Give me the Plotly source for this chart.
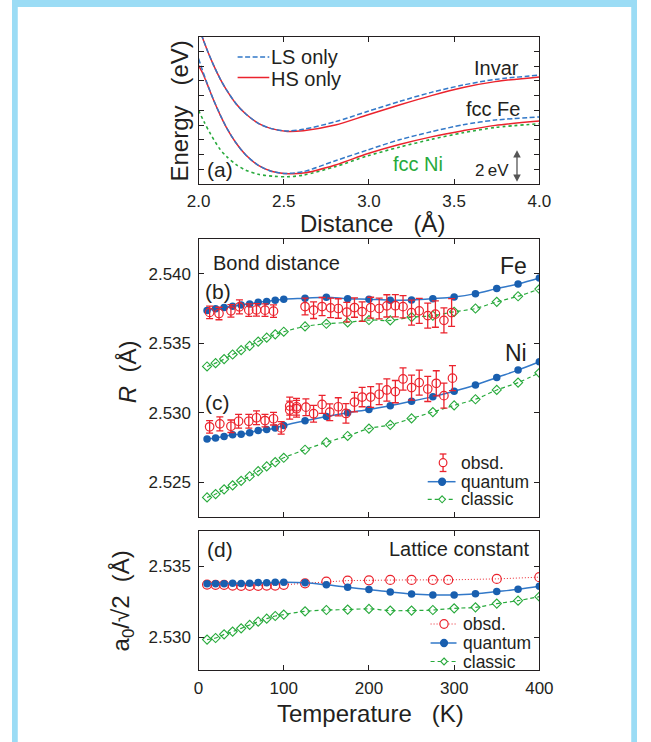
import plotly.graph_objects as go

# ---------------- panel (a): interatomic potential curves ----------------
dist_invar = [2.000, 2.032, 2.051, 2.088, 2.126, 2.163, 2.220, 2.276, 2.351, 2.427, 2.521, 2.615, 2.803, 2.990,
              3.178, 3.366, 3.553, 3.741, 4.000]
invar_ls = [10.65, 9.66, 9.08, 8.07, 7.16, 6.41, 5.45, 4.77, 4.12, 3.76, 3.60, 3.71, 4.23, 4.92, 5.60, 6.22, 6.72,
            7.10, 7.39]
invar_hs = [10.65, 9.66, 9.08, 8.07, 7.16, 6.41, 5.45, 4.77, 4.12, 3.76, 3.57, 3.62, 4.00, 4.68, 5.36, 6.00, 6.55,
            6.95, 7.27]

dist_fe = [2.000, 2.023, 2.051, 2.088, 2.126, 2.163, 2.220, 2.276, 2.351, 2.427, 2.500, 2.615, 2.803, 2.990,
           3.178, 3.366, 3.553, 3.741, 4.000]
fe_ls = [8.52, 7.72, 6.81, 5.71, 4.72, 3.86, 2.79, 1.99, 1.27, 0.87, 0.72, 0.84, 1.58, 2.30, 3.00, 3.55, 4.02,
         4.34, 4.55]
fe_hs = [8.05, 7.55, 6.78, 5.70, 4.71, 3.85, 2.78, 1.98, 1.26, 0.86, 0.72, 0.74, 1.29, 2.05, 2.68, 3.20, 3.62,
         3.98, 4.27]

dist_ni = [2.000, 2.032, 2.070, 2.126, 2.163, 2.220, 2.276, 2.351, 2.445, 2.521, 2.615, 2.803, 2.990, 3.178,
           3.366, 3.553, 3.741, 4.000]
ni_e = [5.00, 4.23, 3.40, 2.36, 1.88, 1.32, 0.94, 0.66, 0.52, 0.49, 0.60, 1.18, 1.90, 2.50, 3.03, 3.48, 3.84, 4.09]

# ---------------- panels (b)-(d): temperature dependence ----------------
temp_calc = [10, 20, 30, 40, 50, 60, 70, 80, 90, 100, 125, 150, 175, 200, 225, 250, 275, 300, 325, 350, 375, 400]

fe_quantum = [2.53736, 2.53748, 2.53757, 2.53767, 2.53776, 2.53783, 2.53795, 2.53800, 2.53810, 2.53817, 2.53824,
              2.53831, 2.53821, 2.53817, 2.53810, 2.53812, 2.53821, 2.53833, 2.53857, 2.53893, 2.53926, 2.53969]
fe_classic = [2.53333, 2.53357, 2.53386, 2.53419, 2.53450, 2.53481, 2.53512, 2.53540, 2.53564, 2.53583, 2.53621,
              2.53640, 2.53650, 2.53667, 2.53664, 2.53688, 2.53698, 2.53726, 2.53750, 2.53798, 2.53838, 2.53890]
ni_quantum = [2.52812, 2.52819, 2.52829, 2.52841, 2.52845, 2.52857, 2.52872, 2.52879, 2.52891, 2.52908, 2.52942,
              2.52973, 2.53000, 2.53024, 2.53051, 2.53082, 2.53116, 2.53155, 2.53200, 2.53254, 2.53307, 2.53367]
ni_classic = [2.52391, 2.52415, 2.52449, 2.52478, 2.52510, 2.52543, 2.52580, 2.52614, 2.52645, 2.52676, 2.52734,
              2.52787, 2.52833, 2.52886, 2.52913, 2.52959, 2.53005, 2.53053, 2.53097, 2.53164, 2.53217, 2.53287]

fe_obs_t = [13, 24, 38, 48, 59, 68, 78, 88, 125, 135, 145, 155, 164, 174, 183, 192, 202, 212, 221, 231, 240,
            250, 259, 269, 278, 288, 297]
fe_obs_r = [2.53722, 2.53714, 2.53733, 2.53762, 2.53738, 2.53740, 2.53738, 2.53731, 2.53764, 2.53738, 2.53764,
            2.53755, 2.53750, 2.53724, 2.53757, 2.53728, 2.53756, 2.53750, 2.53769, 2.53770, 2.53763, 2.53720,
            2.53733, 2.53699, 2.53710, 2.53665, 2.53721]
fe_obs_err = [0.00045, 0.00045, 0.00045, 0.0005, 0.00045, 0.00045, 0.00045, 0.00045, 0.0006, 0.0006, 0.00065,
              0.0007, 0.0007, 0.0007, 0.0007, 0.0007, 0.00075, 0.00075, 0.0008, 0.0008, 0.0008, 0.0009, 0.0009,
              0.0009, 0.00095, 0.0009, 0.001]

ni_obs_t = [13, 25, 38, 47, 59, 68, 78, 88, 97, 107, 107, 115, 115, 126, 135, 145, 154, 164, 173, 183, 192, 202,
            212, 221, 231, 240, 250, 259, 269, 279, 288, 298]
ni_obs_r = [2.52899, 2.52920, 2.52903, 2.52939, 2.52939, 2.52964, 2.52944, 2.52957, 2.52891, 2.53048, 2.53019,
            2.53043, 2.53029, 2.53040, 2.52993, 2.53060, 2.53004, 2.53043, 2.52995, 2.53077, 2.53113, 2.53113,
            2.53133, 2.53164, 2.53152, 2.53243, 2.53181, 2.53217, 2.53171, 2.53212, 2.53123, 2.53249]
ni_obs_err = [0.00045, 0.0005, 0.00045, 0.0005, 0.0005, 0.0005, 0.00045, 0.00045, 0.00045, 0.00065, 0.00065,
              0.0006, 0.0006, 0.0006, 0.0006, 0.00065, 0.0006, 0.00065, 0.0007, 0.0007, 0.0007, 0.00075, 0.00075,
              0.0008, 0.0008, 0.0008, 0.0009, 0.0009, 0.0009, 0.0009, 0.0009, 0.0009]

lat_quantum = [2.53376, 2.53376, 2.53376, 2.53380, 2.53378, 2.53380, 2.53385, 2.53383, 2.53387, 2.53387, 2.53383,
               2.53369, 2.53352, 2.53336, 2.53319, 2.53305, 2.53298, 2.53298, 2.53307, 2.53322, 2.53338, 2.53359]
lat_classic = [2.52984, 2.52995, 2.53021, 2.53040, 2.53063, 2.53087, 2.53110, 2.53131, 2.53150, 2.53160, 2.53183,
               2.53192, 2.53195, 2.53200, 2.53188, 2.53188, 2.53192, 2.53204, 2.53211, 2.53237, 2.53258, 2.53286]
lat_obs_t = [10, 20, 30, 40, 50, 60, 70, 80, 90, 100, 125, 150, 175, 200, 225, 250, 275, 293, 350, 400]
lat_obs = [2.53371, 2.53369, 2.53369, 2.53364, 2.53362, 2.53362, 2.53362, 2.53364, 2.53364, 2.53369, 2.53380,
           2.53392, 2.53399, 2.53401, 2.53404, 2.53404, 2.53404, 2.53404, 2.53411, 2.53423]

# ---------------- styling ----------------
W, H = 651, 742
FONT = "Liberation Sans, Arial, Helvetica, sans-serif"
INK = "#231F20"
RED = "rgb(235,35,45)"
BLUE_M = "rgb(25,95,175)"
BLUE_L = "rgb(50,120,200)"
GREEN = "rgb(40,170,60)"
BG_BLUE = "rgb(155,220,245)"
ARROW = "#555555"


def fx(x):
    return x / W


def fy(y):
    return 1 - y / H


fig = go.Figure()

# panel (a)
fig.add_trace(go.Scatter(x=dist_ni, y=ni_e, mode="lines",
                         line=dict(color=GREEN, width=1.6, dash="dot", shape="spline", smoothing=0.8),
                         xaxis="x", yaxis="y", showlegend=False))
for d, e in ((dist_invar, invar_hs), (dist_fe, fe_hs)):
    fig.add_trace(go.Scatter(x=d, y=e, mode="lines", line=dict(color=RED, width=1.5, shape="spline", smoothing=0.8),
                             xaxis="x", yaxis="y", showlegend=False))
for d, e in ((dist_invar, invar_ls), (dist_fe, fe_ls)):
    fig.add_trace(go.Scatter(x=d, y=e, mode="lines",
                             line=dict(color=BLUE_L, width=1.5, dash="5px,2.5px", shape="spline", smoothing=0.8),
                             xaxis="x", yaxis="y", showlegend=False))

# panels (b) and (c)
for cl, qu, ot, orr, oe in ((fe_classic, fe_quantum, fe_obs_t, fe_obs_r, fe_obs_err),
                             (ni_classic, ni_quantum, ni_obs_t, ni_obs_r, ni_obs_err)):
    fig.add_trace(go.Scatter(x=temp_calc, y=cl, mode="lines+markers", xaxis="x2", yaxis="y2", showlegend=False,
                             line=dict(color=GREEN, width=1.2, dash="4px,3px", shape="spline"),
                             marker=dict(symbol="diamond-open", size=7, color=GREEN, line=dict(width=1.1, color=GREEN))))
    fig.add_trace(go.Scatter(x=temp_calc, y=qu, mode="lines+markers", xaxis="x2", yaxis="y2", showlegend=False,
                             line=dict(color=BLUE_L, width=1.5, shape="spline"),
                             marker=dict(symbol="circle", size=7.5, color=BLUE_M)))
    fig.add_trace(go.Scatter(x=ot, y=orr, mode="markers", xaxis="x2", yaxis="y2", showlegend=False,
                             error_y=dict(type="data", array=oe, color=RED, thickness=1.3, width=3.5),
                             marker=dict(symbol="circle-open", size=8.5, color=RED, line=dict(width=1.2, color=RED))))

# panel (d)
fig.add_trace(go.Scatter(x=temp_calc, y=lat_classic, mode="lines+markers", xaxis="x3", yaxis="y3", showlegend=False,
                         line=dict(color=GREEN, width=1.2, dash="4px,3px", shape="spline"),
                         marker=dict(symbol="diamond-open", size=7, color=GREEN, line=dict(width=1.1, color=GREEN))))
fig.add_trace(go.Scatter(x=lat_obs_t, y=lat_obs, mode="lines+markers", xaxis="x3", yaxis="y3", showlegend=False,
                         line=dict(color=RED, width=1.0, dash="1px,2px"),
                         marker=dict(symbol="circle-open", size=9, color=RED, line=dict(width=1.2, color=RED))))
fig.add_trace(go.Scatter(x=temp_calc, y=lat_quantum, mode="lines+markers", xaxis="x3", yaxis="y3", showlegend=False,
                         line=dict(color=BLUE_L, width=1.5, shape="spline"),
                         marker=dict(symbol="circle", size=7.5, color=BLUE_M)))

axis_common = dict(showline=True, linecolor=INK, linewidth=1.2, mirror="ticks", ticks="inside", ticklen=5,
                   tickcolor=INK, tickwidth=1.1, showgrid=False, zeroline=False,
                   tickfont=dict(family=FONT, size=17, color=INK))

xdom = [fx(194.3), fx(549.3)]
fig.update_layout(
    width=W, height=H, margin=dict(l=0, r=0, t=0, b=0),
    paper_bgcolor="white", plot_bgcolor="white",
    font=dict(family=FONT, color=INK),
    xaxis=dict(axis_common, domain=xdom, anchor="y", range=[2.0, 4.0],
               tickvals=[2.0, 2.5, 3.0, 3.5, 4.0], tickformat=".1f", ticklabelstandoff=1),
    yaxis=dict(axis_common, domain=[fy(184), fy(36.7)], anchor="x", range=[0, 10], dtick=1,
               showticklabels=False),
    xaxis2=dict(axis_common, domain=xdom, anchor="y2", range=[0, 400], tickvals=[0, 100, 200, 300, 400],
                showticklabels=False),
    yaxis2=dict(axis_common, domain=[fy(517), fy(239)], anchor="x2", range=[2.5225, 2.5425],
                tickvals=[2.525, 2.530, 2.535, 2.540], tickformat=".3f", ticklabelstandoff=3),
    xaxis3=dict(axis_common, domain=xdom, anchor="y3", range=[0, 400], tickvals=[0, 100, 200, 300, 400],
                ticklabelstandoff=2),
    yaxis3=dict(axis_common, domain=[fy(670), fy(530.7)], anchor="x3", range=[2.5277, 2.5375],
                tickvals=[2.530, 2.535], tickformat=".3f", ticklabelstandoff=3),
)

annotations = []


def label(text, x, y, size, xanchor="center", color=INK, angle=0):
    annotations.append(dict(text=text, x=fx(x), y=fy(y), xref="paper", yref="paper", showarrow=False,
                            xanchor=xanchor, yanchor="middle", textangle=angle, borderpad=0,
                            font=dict(family=FONT, size=size, color=color)))


# axis titles
label("Energy&nbsp;&nbsp;&nbsp;(eV)", 174, 111.5, 24, angle=-90)
label("Distance&nbsp;&nbsp;&nbsp;(Å)", 375, 223, 24)
label("<i>R</i>&nbsp;&nbsp;(Å)", 120, 372, 24, angle=-90)
label("a<sub>0</sub>/√2&nbsp;&nbsp;(Å)", 115, 601, 24, angle=-90)
label("Temperature&nbsp;&nbsp;&nbsp;(K)", 373, 713, 24)

# panel labels and notes
label("(a)", 202, 169.5, 21, xanchor="left")
label("Invar", 529, 67.5, 20, xanchor="right")
label("fcc Fe", 530, 108.5, 20, xanchor="right")
label("fcc Ni", 396, 163.5, 20, xanchor="left", color=GREEN)
label("2\u2009eV", 519, 170, 17, xanchor="right")
label("LS only", 269, 57.5, 20, xanchor="left")
label("HS only", 269, 79.5, 20, xanchor="left")

label("Bond distance", 208, 263, 20, xanchor="left")
label("(b)", 200, 291, 21, xanchor="left")
label("Fe", 537, 266.5, 23, xanchor="right")
label("Ni", 537, 353, 23, xanchor="right")
label("(c)", 200, 402, 21, xanchor="left")

label("(d)", 202, 549, 21, xanchor="left")
label("Lattice constant", 541, 549, 20, xanchor="right")

for txt, yy in (("obsd.", 462.7), ("quantum", 481.7), ("classic", 499.3)):
    label(txt, 467, yy, 17.5, xanchor="left")
for txt, yy in (("obsd.", 624), ("quantum", 643), ("classic", 661.5)):
    label(txt, 469, yy, 17.5, xanchor="left")

fig.update_layout(annotations=annotations)

shapes = []
# page frame strips
shapes.append(dict(type="rect", xref="paper", yref="paper", x0=0, x1=fx(6), y0=0, y1=1,
                   fillcolor=BG_BLUE, line=dict(width=0), layer="below"))
shapes.append(dict(type="rect", xref="paper", yref="paper", x0=fx(645), x1=1, y0=0, y1=1,
                   fillcolor=BG_BLUE, line=dict(width=0), layer="below"))
shapes.append(dict(type="rect", xref="paper", yref="paper", x0=0, x1=1, y0=fy(7), y1=1,
                   fillcolor=BG_BLUE, line=dict(width=0), layer="below"))


def seg(x0, y0, x1, y1, color, width=1.4, dash="solid"):
    shapes.append(dict(type="line", xref="paper", yref="paper", x0=fx(x0), y0=fy(y0), x1=fx(x1), y1=fy(y1),
                       line=dict(color=color, width=width, dash=dash)))


def poly(points, color, fill):
    path = "M " + " L ".join("{:.5f},{:.5f}".format(fx(a), fy(b)) for a, b in points) + " Z"
    shapes.append(dict(type="path", xref="paper", yref="paper", path=path,
                       line=dict(color=color, width=1.1), fillcolor=fill))


def circ(xc, yc, r, color, filled):
    shapes.append(dict(type="circle", xref="paper", yref="paper", x0=fx(xc - r), x1=fx(xc + r),
                       y0=fy(yc + r), y1=fy(yc - r), line=dict(color=color, width=1.2),
                       fillcolor=color if filled else "white"))


def diamond(xc, yc, r, color):
    poly([(xc, yc - r), (xc + r, yc), (xc, yc + r), (xc - r, yc)], color, "white")


# 2 eV scale bar: double-headed arrow
seg(526, 154, 526, 178, ARROW, 1.3)
poly([(526, 151.5), (523, 157), (529, 157)], ARROW, ARROW)
poly([(526, 180.5), (523, 175), (529, 175)], ARROW, ARROW)

# legend keys, panel (a)
seg(235, 57, 268, 57, BLUE_L, 1.5, "5px,2.5px")
seg(235, 77.5, 268, 77.5, RED, 1.5)

# legend keys, panel (c)
seg(449, 454, 449, 471.5, RED, 1.3)
seg(445.5, 454, 452.5, 454, RED, 1.3)
seg(445.5, 471.5, 452.5, 471.5, RED, 1.3)
circ(449, 462.7, 4, RED, False)
seg(433, 481.7, 462, 481.7, BLUE_L, 1.5)
circ(448, 481.7, 3.6, BLUE_M, True)
seg(433, 499.3, 462, 499.3, GREEN, 1.2, "4px,3px")
diamond(448, 499.3, 3.5, GREEN)

# legend keys, panel (d)
seg(436, 624, 463, 624, RED, 1.0, "1px,2px")
circ(450, 624, 4.3, RED, False)
seg(436, 643, 463, 643, BLUE_L, 1.5)
circ(450, 643, 3.6, BLUE_M, True)
seg(436, 661.5, 463, 661.5, GREEN, 1.2, "4px,3px")
diamond(450, 661.5, 3.5, GREEN)

fig.update_layout(shapes=shapes)

fig.write_html("out.html")
